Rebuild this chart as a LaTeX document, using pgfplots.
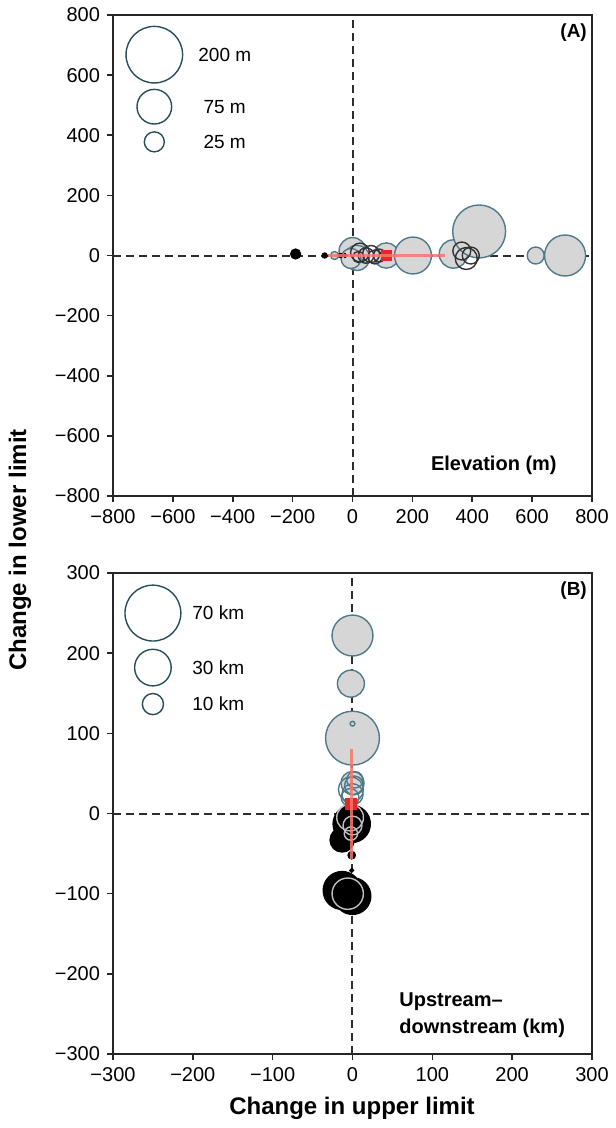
\documentclass[border=0pt]{standalone}
\usepackage{fontspec}
\setmainfont{Liberation Sans}
\usepackage{pgfplots}
\pgfplotsset{compat=1.18}

\definecolor{bubfill}{RGB}{214,214,214}
\definecolor{bubedge}{RGB}{80,122,138}
\definecolor{legedge}{RGB}{40,78,90}
\definecolor{meanred}{RGB}{232,38,38}
\definecolor{barred}{RGB}{242,120,108}
\definecolor{zeroline}{RGB}{45,45,45}

\tikzset{leglab/.style={anchor=west, inner sep=0pt, font=\fontsize{9.5}{10}\selectfont}}

\pgfplotsset{
  panel/.style={
    scale only axis, width=239.5pt, height=240.5pt,
    anchor=north west, clip=false, set layers,
    axis line style={black!85, line width=0.8pt},
    tick style={black!85, line width=0.8pt},
    tick align=outside, major tick length=3pt,
    xtick pos=bottom, ytick pos=left,
    ticklabel style={font=\fontsize{10}{11}\selectfont},
  },
  % bubbles: #1 draw colour, #2 fill colour, #3 radius factor (pt per sqrt(size))
  bub/.style n args={3}{
    scatter, only marks, mark=*, line width=0.7pt,
    scatter/use mapped color={draw=#1, fill=#2},
    visualization depends on={#3*sqrt(\thisrow{s})\as\rad},
    scatter/@pre marker code/.append style={/tikz/mark size=\rad pt},
  },
  ring/.style n args={2}{
    scatter, only marks, mark=o, line width=0.7pt,
    scatter/use mapped color={draw=#1},
    visualization depends on={#2*sqrt(\thisrow{s})\as\rad},
    scatter/@pre marker code/.append style={/tikz/mark size=\rad pt},
  },
  zero/.style={zeroline, line width=1pt, dash pattern=on 4pt off 2.5pt},
  meanpt/.style={only marks, mark=square*, mark size=2.6pt,
    mark options={draw=meanred, fill=meanred, line width=0.4pt}, on layer=axis foreground},
  range/.style={barred, line width=1.4pt, opacity=0.85, on layer=axis descriptions},
}

\begin{document}
\begin{tikzpicture}

% ---------------- (A) elevation ----------------
\begin{axis}[panel, at={(0,0)},
  xmin=-800, xmax=800, ymin=-800, ymax=800,
  xtick={-800,-600,...,800}, ytick={-800,-600,...,800},
  xticklabels={−800,−600,−400,−200,0,200,400,600,800},
  yticklabels={−800,−600,−400,−200,0,200,400,600,800}]
\addplot[zero] coordinates {(-800,0) (800,0)};
\addplot[zero] coordinates {(0,-800) (0,800)};
% legend bubbles
\addplot[bub={legedge}{white}{1}] table {
x y s
-662 668 200
-662 495 75
-662 378 25
};
% range shifts (grey)
\addplot[bub={bubedge}{bubfill}{1}] table {
x y s
0 15 45
15 -8 40
-5 -10 25
-60 0 4
113 0 40
202 0 85
337 5 50
423 80 175
612 0 18
710 0 105
};
\addplot[ring={black!80}{1}] table {
x y s
25 10 22
45 0 15
62 5 18
75 -5 12
90 0 10
20 -5 8
380 -10 30
395 0 18
365 15 20
};
\addplot[bub={black}{black}{1}] table {
x y s
-190 5 6
-93 0 1.5
-40 0 1
-25 0 0.8
};
% mean and range
\addplot[range] coordinates {(-83,0) (310,0)};
\addplot[meanpt] coordinates {(113,0)};
\node[leglab] at (axis cs:-516,668) {200 m};
\node[leglab] at (axis cs:-499,495) {75 m};
\node[leglab] at (axis cs:-499,378) {25 m};
\node[anchor=north east, inner sep=0pt, font=\bfseries\fontsize{9.5}{10}\selectfont] at (rel axis cs:0.99,0.983) {(A)};
\node[anchor=east, inner sep=0pt, font=\bfseries\fontsize{10}{11}\selectfont] at (rel axis cs:0.927,0.064) {Elevation (m)};
\end{axis}

% ---------------- (B) upstream-downstream ----------------
\begin{axis}[panel, at={(0,-279pt)},
  xmin=-300, xmax=300, ymin=-300, ymax=300,
  xtick={-300,-200,...,300}, ytick={-300,-200,...,300},
  xticklabels={−300,−200,−100,0,100,200,300},
  yticklabels={−300,−200,−100,0,100,200,300}]
\addplot[zero] coordinates {(-300,0) (300,0)};
\addplot[zero] coordinates {(0,-300) (0,300)};
\addplot[bub={legedge}{white}{1.67}] table {
x y s
-250 250 70
-250 182 30
-250 136.5 10
};
\addplot[bub={bubedge}{bubfill}{1.67}] table {
x y s
0 222 37.5
-2 162 16.3
0 94 65
0 38 12
};
\addplot[ring={bubedge}{1.67}] table {
x y s
0 112 0.5
2 35 8
-2 30 14
3 42 6
0 24 10
-3 20 7
};
\addplot[bub={black}{black}{1.67}] table {
x y s
-1 -13 31
-13 -33 13
-1 -52 1.2
-1 -71 0.3
-13 -96 32
0 -103 30
};
\addplot[ring={black!25}{1.67}] table {
x y s
-3 -5 16
0 -15 8
-2 -25 4
-6 -100 22
};
\addplot[range] coordinates {(-1,80) (-1,-57)};
\addplot[meanpt] coordinates {(-2,12)};
\node[leglab] at (axis cs:-201,250) {70 km};
\node[leglab] at (axis cs:-201,182) {30 km};
\node[leglab] at (axis cs:-201,136.5) {10 km};
\node[anchor=north east, inner sep=0pt, font=\bfseries\fontsize{9.5}{10}\selectfont] at (rel axis cs:0.99,0.983) {(B)};
\node[anchor=west, align=left, inner sep=0pt, font=\bfseries\fontsize{10}{13.5}\selectfont] at (rel axis cs:0.597,0.08) {Upstream–\\downstream (km)};
\end{axis}

\node[rotate=90, font=\bfseries\fontsize{12}{14}\selectfont] at (-46.5pt,-267.5pt) {Change in lower limit};
\node[font=\bfseries\fontsize{12}{14}\selectfont] at (119.5pt,-546.5pt) {Change in upper limit};
\path (-56.5pt,7.5pt) rectangle (248pt,-556.5pt);
\end{tikzpicture}
\end{document}
